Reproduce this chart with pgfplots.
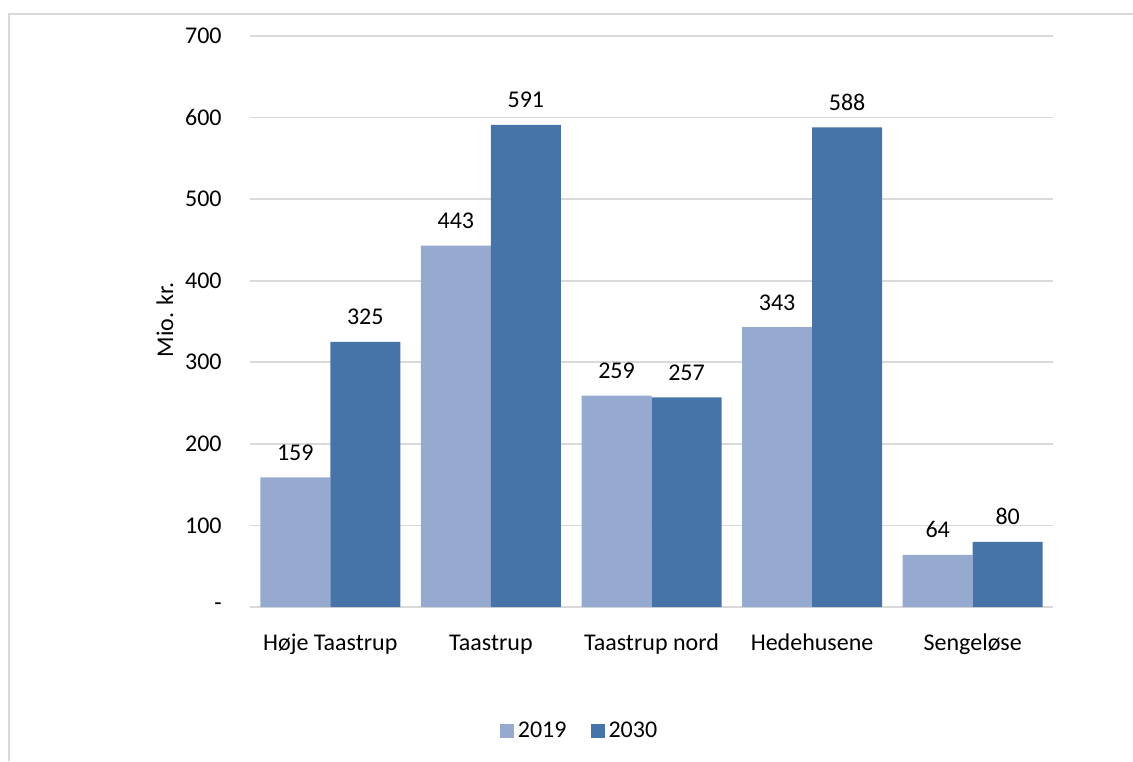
\documentclass[border=0pt]{standalone}
\usepackage{pgfplots}
\pgfplotsset{compat=1.18}
\usepackage{fontspec}
\setmainfont{Carlito}
\definecolor{cLight}{HTML}{96AAD0}
\definecolor{cDark}{HTML}{4673A8}
\definecolor{cGrid}{HTML}{D9D9D9}
\begin{document}
\fontsize{12pt}{14pt}\selectfont
\begin{tikzpicture}
\path[use as bounding box] (0,0) rectangle (566.5pt,380.5pt);
\draw[cGrid, line width=1pt] (4.5pt,0) -- (4.5pt,373.5pt) -- (566.5pt,373.5pt);
\begin{axis}[
  at={(125pt,77pt)}, anchor=south west,
  scale only axis, width=401.5pt, height=285.5pt,
  xmin=-0.5, xmax=4.5, ymin=0, ymax=700,
  ybar=0pt, bar width=35pt,
  xtick={0,1,2,3,4},
  xticklabels={Høje Taastrup,Taastrup,Taastrup nord,Hedehusene,Sengeløse},
  ytick={0,100,200,300,400,500,600,700},
  yticklabels={{-\hspace{5.5pt}},100,200,300,400,500,600,700},
  major tick length=0pt,
  axis line style={draw=none},
  ymajorgrids, grid style={cGrid, line width=0.8pt},
  /pgf/number format/assume math mode=true,
  tick label style={font=\fontsize{12pt}{14pt}\selectfont, text=black},
  yticklabel style={anchor=east, inner sep=0pt, xshift=-14pt},
  xticklabel style={anchor=base, inner sep=0pt, yshift=-21.5pt},
  nodes near coords,
  nodes near coords style={anchor=base, inner sep=0pt, yshift=8.5pt, font=\fontsize{12pt}{14pt}\selectfont, text=black},
  legend columns=2,
  legend style={at={(axis description cs:0.4116,-0.2172)}, anchor=center, draw=none, fill=none,
    font=\fontsize{12pt}{14pt}\selectfont, /tikz/every even column/.append style={column sep=10pt}},
  legend image code/.code={\fill[#1] (0pt,-3.5pt) rectangle (7pt,3.5pt);},
]
\addplot[fill=cLight, draw=none] coordinates {(0,159) (1,443) (2,259) (3,343) (4,64)};
\addplot[fill=cDark, draw=none] coordinates {(0,325) (1,591) (2,257) (3,588) (4,80)};
\legend{2019,2030}
\end{axis}
\node[rotate=90, anchor=center] at (82.5pt,220.5pt) {Mio. kr.};
\end{tikzpicture}
\end{document}
